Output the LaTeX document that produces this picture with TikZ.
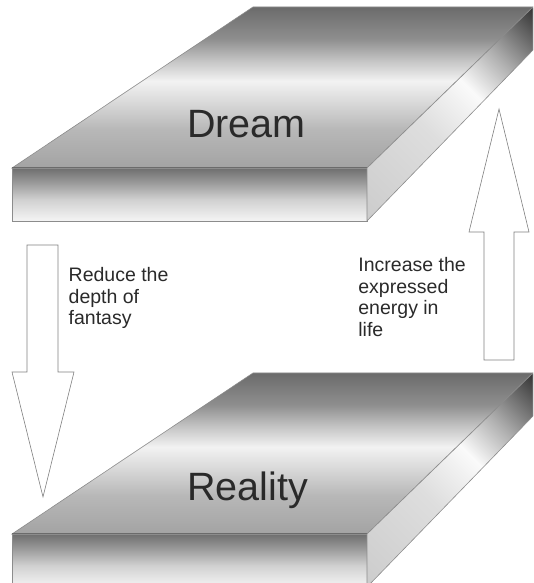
\documentclass[tikz,border=0pt]{standalone}
\usepackage{fontspec}
\setmainfont{Liberation Sans}
\definecolor{tf0}{gray}{0.64}
\definecolor{tf1}{gray}{0.72}
\definecolor{tf2}{gray}{0.86}
\definecolor{tf3}{gray}{0.95}
\definecolor{tf4}{gray}{0.78}
\definecolor{tf5}{gray}{0.56}
\definecolor{tf6}{gray}{0.42}
\definecolor{ff0}{gray}{0.96}
\definecolor{ff1}{gray}{0.82}
\definecolor{ff2}{gray}{0.62}
\definecolor{ff3}{gray}{0.43}
\definecolor{sf0}{gray}{0.80}
\definecolor{sf1}{gray}{0.87}
\definecolor{sf2}{gray}{0.98}
\definecolor{sf3}{gray}{0.68}
\definecolor{sf4}{gray}{0.20}
\definecolor{edgegray}{gray}{0.55}
\definecolor{arrowgray}{gray}{0.50}
\definecolor{txt}{HTML}{2A2A2A}
\pgfdeclareverticalshading{topshade}{100bp}{color(0bp)=(tf0); color(25bp)=(tf0); color(37bp)=(tf1); color(46bp)=(tf2); color(52bp)=(tf3); color(58bp)=(tf4); color(65bp)=(tf5); color(75bp)=(tf6); color(100bp)=(tf6)}
\pgfdeclareverticalshading{frontshade}{100bp}{color(0bp)=(ff0); color(25bp)=(ff0); color(45bp)=(ff1); color(60bp)=(ff2); color(75bp)=(ff3); color(100bp)=(ff3)}
\pgfdeclarehorizontalshading{sideshade}{100bp}{color(0bp)=(sf0); color(25bp)=(sf0); color(45bp)=(sf1); color(56bp)=(sf2); color(64bp)=(sf3); color(75bp)=(sf4); color(100bp)=(sf4)}
\begin{document}
\begin{tikzpicture}[x=1pt,y=1pt,
  edge/.style={draw=edgegray, line width=0.6pt, line join=miter},
  blockarrow/.style={draw=arrowgray, fill=white, line width=0.6pt, line join=miter},
  notetext/.style={font=\fontsize{19.5}{21.7}\selectfont, text=txt, align=left, inner sep=0pt, anchor=north west},
  slabtext/.style={font=\fontsize{39.5}{41}\selectfont, text=txt, inner sep=0pt, anchor=base}]
\useasboundingbox (0,0) rectangle (533,583);
\clip (0,0) rectangle (533,583);
\foreach \dy in {0,366}{
  \path[edge, shading=topshade] (253,576-\dy) -- (533,576-\dy) -- (367,415-\dy) -- (12,415-\dy) -- cycle;
  \path[edge, shading=frontshade] (12,415-\dy) -- (367,415-\dy) -- (367,362-\dy) -- (12,362-\dy) -- cycle;
  \begin{scope}
    \clip (367,415-\dy) -- (533,576-\dy) -- (533,533-\dy) -- (367,362-\dy) -- cycle;
    \begin{scope}[transform canvas={shift={(367,362-\dy)}, rotate=45}]
      \shade[shading=sideshade] (0,-10) rectangle (268,50);
    \end{scope}
  \end{scope}
  \path[edge] (367,415-\dy) -- (533,576-\dy) -- (533,533-\dy) -- (367,362-\dy) -- cycle;
}
\path[blockarrow] (27,338) -- (58,338) -- (58,211) -- (74,211) -- (43,86) -- (12,211) -- (27,211) -- cycle;
\path[blockarrow] (484,223) -- (514,223) -- (514,351) -- (529,351) -- (499,474) -- (469,351) -- (484,351) -- cycle;
\node[notetext] (reduce) at (68.5,316) {Reduce the\\depth of\\fantasy};
\node[notetext] (increase) at (358.2,326) {Increase the\\expressed\\energy in\\life};
\node[slabtext] (dream) at (246.5,445) {Dream};
\node[slabtext] (reality) at (247.5,82) {Reality};
\end{tikzpicture}
\end{document}
